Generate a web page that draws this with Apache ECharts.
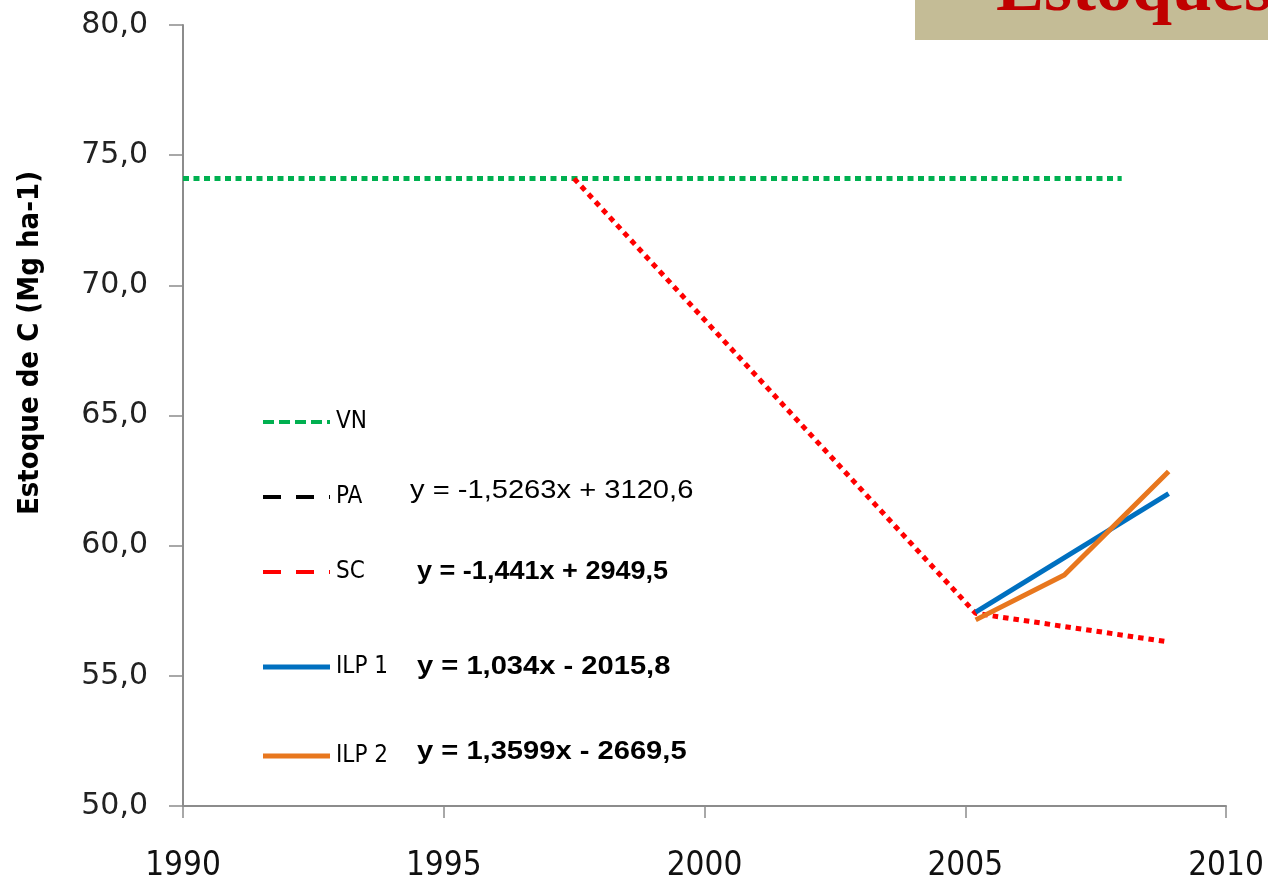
<!DOCTYPE html>
<html><head><meta charset="utf-8">
<script src="https://cdn.jsdelivr.net/npm/echarts@6/dist/echarts.min.js"></script>
<style>html,body{margin:0;padding:0;background:#fff}#c{width:1268px;height:883px}</style>
</head><body><div id="c"></div>
<script>
// Data
const vnYears = [1990, 2008];
const vnValues = [74.1, 74.1];
const scYears = [1997.5, 2005.2, 2008.9];
const scValues = [74.1, 57.4, 56.3];
const ilp1Years = [2005.2, 2008.9];
const ilp1Values = [57.45, 62.0];
const ilp2Years = [2005.2, 2006.9, 2008.9];
const ilp2Values = [57.15, 58.87, 62.85];
const legendNames = ['VN', 'PA', 'SC', 'ILP 1', 'ILP 2'];
const equations = ['y = -1,5263x + 3120,6', 'y = -1,441x + 2949,5', 'y = 1,034x - 2015,8', 'y = 1,3599x - 2669,5'];
const titleText = 'Estoques';
const yAxisTitle = 'Estoque de C (Mg ha-1)';

const pairs = (xs, ys) => xs.map((x, i) => [x, ys[i]]);
const C = {green:'#00B050', black:'#000000', red:'#FF0000', blue:'#0070C0', orange:'#E8771E'};
const narrow = '"Liberation Sans Narrow", "DejaVu Sans Condensed", sans-serif';

const chart = echarts.init(document.getElementById('c'));
const legendRows = [
  {name: legendNames[0], y: 422, color: C.green, dash: [11, 5], w: 4},
  {name: legendNames[1], y: 497, color: C.black, dash: [18, 15], w: 4},
  {name: legendNames[2], y: 572, color: C.red, dash: [18, 15], w: 4},
  {name: legendNames[3], y: 667, color: C.blue, dash: null, w: 5},
  {name: legendNames[4], y: 756, color: C.orange, dash: null, w: 5}
];
const graphics = [];
legendRows.forEach(r => {
  graphics.push({type:'line', shape:{x1:263, y1:r.y, x2:330, y2:r.y},
    style:{stroke:r.color, lineWidth:r.w, lineDash:r.dash || null, lineCap:'butt'}});
  graphics.push({type:'text', x:336, y:r.y, style:{text:r.name, font:'24px ' + narrow, fill:'#000', verticalAlign:'middle'}});
});
const eqPos = [[410, 491, 'normal', 1.12], [417, 572, 'bold', 1.04], [417, 667, 'bold', 1.12], [417, 752, 'bold', 1.12]];
equations.forEach((t, i) => {
  graphics.push({type:'text', x:eqPos[i][0], y:eqPos[i][1], scaleX:eqPos[i][3],
    style:{text:t, font: eqPos[i][2] + ' 26px "Liberation Sans", Arial, sans-serif', fill:'#000', verticalAlign:'middle'}});
});
// title box
graphics.push({type:'rect', shape:{x:915, y:0, width:353, height:40}, style:{fill:'#C4BC96'}});
graphics.push({type:'text', x:996, y:-9, style:{text:titleText, font:'bold 72px "Liberation Serif", "Times New Roman", serif', fill:'#C00000', verticalAlign:'middle'}});
// y axis title
graphics.push({type:'text', x:30, y:343, rotation:Math.PI/2,
  style:{text:yAxisTitle, font:'bold 29px ' + narrow, fill:'#000', align:'center', verticalAlign:'middle'}});

const dotted = (color, dash) => ({color, width:5, type:dash, cap:'butt'});

chart.setOption({
  animation:false,
  backgroundColor:'#fff',
  grid:{left:183, right:42, top:25, bottom:76, containLabel:false},
  xAxis:{type:'value', min:1990, max:2010, interval:5,
    axisLine:{lineStyle:{color:'#8C8C8C', width:2}},
    axisTick:{show:true, length:12, lineStyle:{color:'#8C8C8C', width:1.5}},
    splitLine:{show:false},
    axisLabel:{margin:44, fontSize:33, color:'#111', fontFamily:narrow, formatter:v => String(v)}},
  yAxis:{type:'value', min:50, max:80, interval:5,
    axisLine:{show:true, lineStyle:{color:'#8C8C8C', width:2}},
    axisTick:{show:true, length:14, lineStyle:{color:'#8C8C8C', width:1.5}},
    splitLine:{show:false},
    axisLabel:{margin:35, fontSize:30, color:'#222', fontFamily:'"DejaVu Sans", Verdana, sans-serif',
      formatter:v => v.toFixed(1).replace('.', ',')}},
  series:[
    {name:'VN', type:'line', data:pairs(vnYears, vnValues), showSymbol:false, lineStyle:dotted(C.green, [6, 4.5])},
    {name:'SC', type:'line', data:pairs(scYears, scValues), showSymbol:false, lineStyle:dotted(C.red, [5.5, 5])},
    {name:'ILP 1', type:'line', data:pairs(ilp1Years, ilp1Values), showSymbol:false, lineStyle:{color:C.blue, width:5}},
    {name:'ILP 2', type:'line', data:pairs(ilp2Years, ilp2Values), showSymbol:false, lineStyle:{color:C.orange, width:5}}
  ],
  graphic:graphics
});
</script></body></html>
